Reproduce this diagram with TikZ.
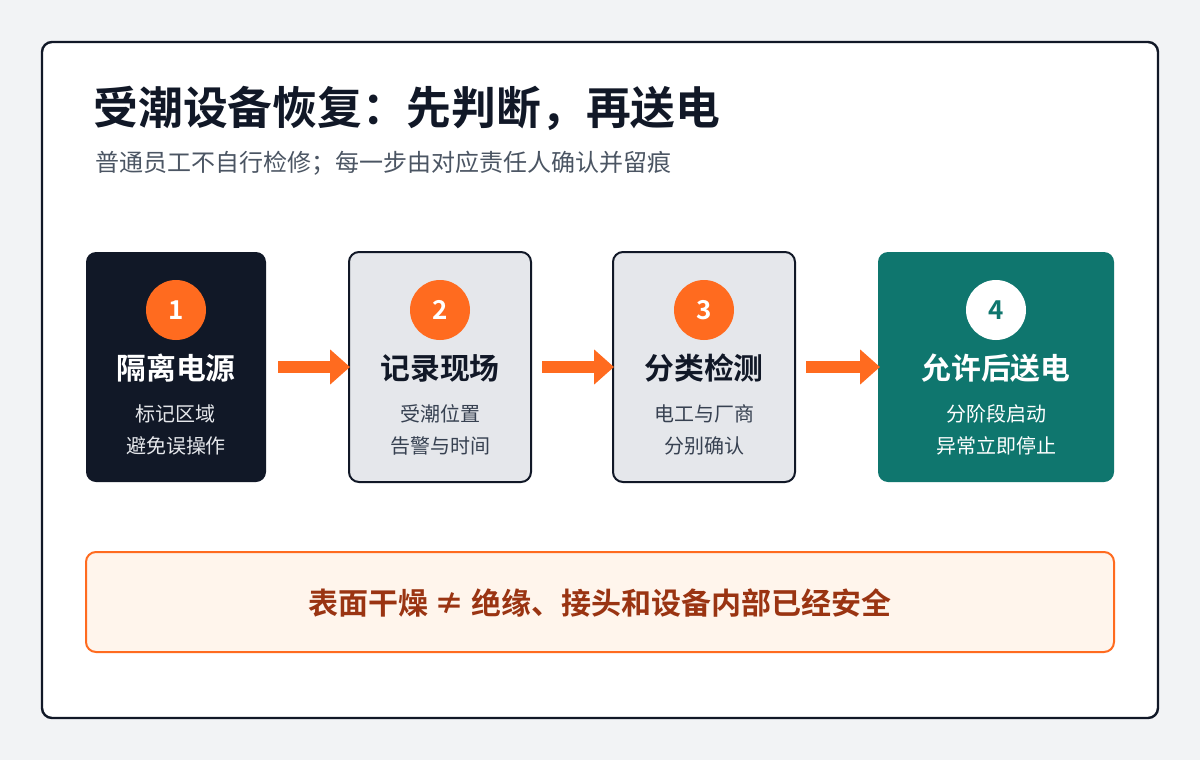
\documentclass[tikz,border=0pt]{standalone}
\usepackage{fontspec}
\setmainfont{Noto Sans CJK SC}
\newfontfamily\cjkb{Noto Sans CJK SC Bold}
\usetikzlibrary{arrows.meta}
\definecolor{bg}{HTML}{F2F3F5}
\definecolor{ink}{HTML}{111827}
\definecolor{gray2}{HTML}{E5E7EB}
\definecolor{teal}{HTML}{0F766E}
\definecolor{org}{HTML}{FF6B1F}
\definecolor{sub}{HTML}{4B5563}
\definecolor{dk}{HTML}{374151}
\definecolor{warnbg}{HTML}{FFF5EC}
\definecolor{warn}{HTML}{9A3412}
\begin{document}
\begin{tikzpicture}[x=0.5pt,y=-0.5pt,
  box/.style={rounded corners=5pt,line width=1pt},
  num/.style={circle,minimum size=30pt,inner sep=0pt,font=\cjkb\fontsize{13}{13}\selectfont},
  ttl/.style={font=\cjkb\fontsize{14.9}{15}\selectfont},
  txt/.style={font=\fontsize{10}{16}\selectfont,align=center},
  arr/.style={draw=org,line width=6pt,-{Triangle[length=10pt,width=17pt]}}]
\fill[bg] (0,0) rectangle (1200,760);
\draw[fill=white,draw=ink,line width=1.2pt,rounded corners=5pt] (42,42) rectangle (1158,718);
\node[anchor=west,inner sep=0pt,font=\cjkb\fontsize{22.4}{23}\selectfont,text=ink] (title) at (93,108) {受潮设备恢复：先判断，再送电};
\node[anchor=west,inner sep=0pt,font=\fontsize{12}{12}\selectfont,text=sub] (subt) at (95,163) {普通员工不自行检修；每一步由对应责任人确认并留痕};
% boxes
\fill[ink,rounded corners=5pt] (86,252) rectangle (266,482);
\draw[box,fill=gray2,draw=ink] (349,252) rectangle (531,482);
\draw[box,fill=gray2,draw=ink] (613,252) rectangle (795,482);
\fill[teal,rounded corners=5pt] (878,252) rectangle (1114,482);
\node[num,fill=org,text=white] (n1) at (176,310) {1};
\node[num,fill=org,text=white] (n2) at (440,310) {2};
\node[num,fill=org,text=white] (n3) at (704,310) {3};
\node[num,fill=white,text=teal] (n4) at (996,310) {4};
\node[ttl,text=white] (t1) at (176,368) {隔离电源};
\node[ttl,text=ink] (t2) at (440,368) {记录现场};
\node[ttl,text=ink] (t3) at (704,368) {分类检测};
\node[ttl,text=white] (t4) at (996,368) {允许后送电};
\node[txt,text=gray2] (s1) at (176,430) {标记区域\\避免误操作};
\node[txt,text=dk] (s2) at (440,430) {受潮位置\\告警与时间};
\node[txt,text=dk] (s3) at (704,430) {电工与厂商\\分别确认};
\node[txt,text=white] (s4) at (996,430) {分阶段启动\\异常立即停止};
\coordinate (a1s) at (278,367); \coordinate (a1e) at (350,367);
\coordinate (a2s) at (542,367); \coordinate (a2e) at (614,367);
\coordinate (a3s) at (806,367); \coordinate (a3e) at (880,367);
\draw[arr] (a1s) -- (a1e);
\draw[arr] (a2s) -- (a2e);
\draw[arr] (a3s) -- (a3e);
\draw[box,fill=warnbg,draw=org] (86,552) rectangle (1114,652);
\node[font=\cjkb\fontsize{15}{15}\selectfont,text=warn] (w) at (600,603) {表面干燥 ≠ 绝缘、接头和设备内部已经安全};
\end{tikzpicture}
\end{document}
